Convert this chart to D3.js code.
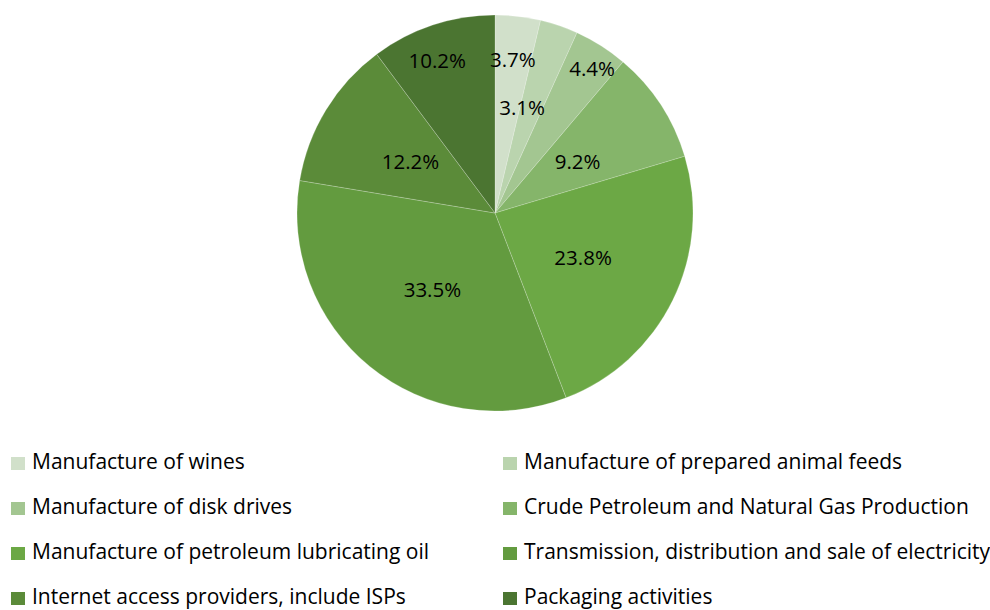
<!DOCTYPE html>
<html>
<head>
<meta charset="utf-8">
<script src="https://cdn.jsdelivr.net/npm/d3@7"></script>
<style>
  body { margin: 0; background: #fff; }
  svg text { font-family: "Open Sans", sans-serif; fill: #000; }
</style>
</head>
<body>
<div id="chart"></div>
<script>
// data
var categories = [
  "Manufacture of wines",
  "Manufacture of prepared animal feeds",
  "Manufacture of disk drives",
  "Crude Petroleum and Natural Gas Production",
  "Manufacture of petroleum lubricating oil",
  "Transmission, distribution and sale of electricity",
  "Internet access providers, include ISPs",
  "Packaging activities"
];
var shares = [3.7, 3.1, 4.4, 9.2, 23.8, 33.5, 12.2, 10.2];
var colors = ["#d1e0ca", "#bad4ae", "#a3c691", "#85b56a", "#6ca845", "#639b3f", "#5b8b39", "#4b7531"];

// label placement (fraction of radius, angle nudge in degrees) - mimics excel best fit
var labelPos = [[0.78, 0], [0.55, -4.5], [0.88, 1.5], [0.49, 1.5], [0.5, 1], [0.5, 0], [0.5, 0], [0.82, -2.5]];

var width = 990, height = 610;
var cx = 495, cy = 213, radius = 198;

var svg = d3.select("#chart")
  .append("svg")
    .attr("width", width)
    .attr("height", height);

var data = categories.map(function(c, i) { return {name: c, value: shares[i], i: i}; });

var pie = d3.pie()
  .sort(null)
  .value(function(d) { return d.value; });

var arc = d3.arc()
  .innerRadius(0)
  .outerRadius(radius);

var g = svg.append("g")
  .attr("transform", "translate(" + cx + "," + cy + ")");

var arcs = pie(data);

g.selectAll("path")
  .data(arcs)
  .enter()
  .append("path")
    .attr("d", arc)
    .style("fill", function(d) { return colors[d.data.i]; })
    .style("stroke", "#ffffff")
    .style("stroke-width", 0.6)
    .style("stroke-opacity", 0.35);

// percent labels
g.selectAll("text.lbl")
  .data(arcs)
  .enter()
  .append("text")
    .attr("class", "lbl")
    .attr("text-anchor", "middle")
    .attr("dy", "0.35em")
    .style("font-size", "20.5px")
    .attr("transform", function(d) {
      var p = labelPos[d.data.i];
      var a = (d.startAngle + d.endAngle) / 2 + p[1] * Math.PI / 180;
      var r = radius * p[0];
      return "translate(" + (r * Math.sin(a)) + "," + (-r * Math.cos(a)) + ")";
    })
    .text(function(d) { return d.data.value.toFixed(1) + "%"; });

// legend, two columns
var colX = [11, 503], rowY = 469, rowStep = 45;

var legend = svg.append("g");

var item = legend.selectAll("g")
  .data(data)
  .enter()
  .append("g")
    .attr("transform", function(d) {
      return "translate(" + colX[d.i % 2] + "," + (rowY + Math.floor(d.i / 2) * rowStep) + ")";
    });

item.append("rect")
  .attr("x", 0)
  .attr("y", -12)
  .attr("width", 14)
  .attr("height", 13)
  .style("fill", function(d) { return colors[d.i]; });

item.append("text")
  .attr("x", 21)
  .attr("y", 0)
  .style("font-size", "21px")
  .text(function(d) { return d.name; });
</script>
</body>
</html>
